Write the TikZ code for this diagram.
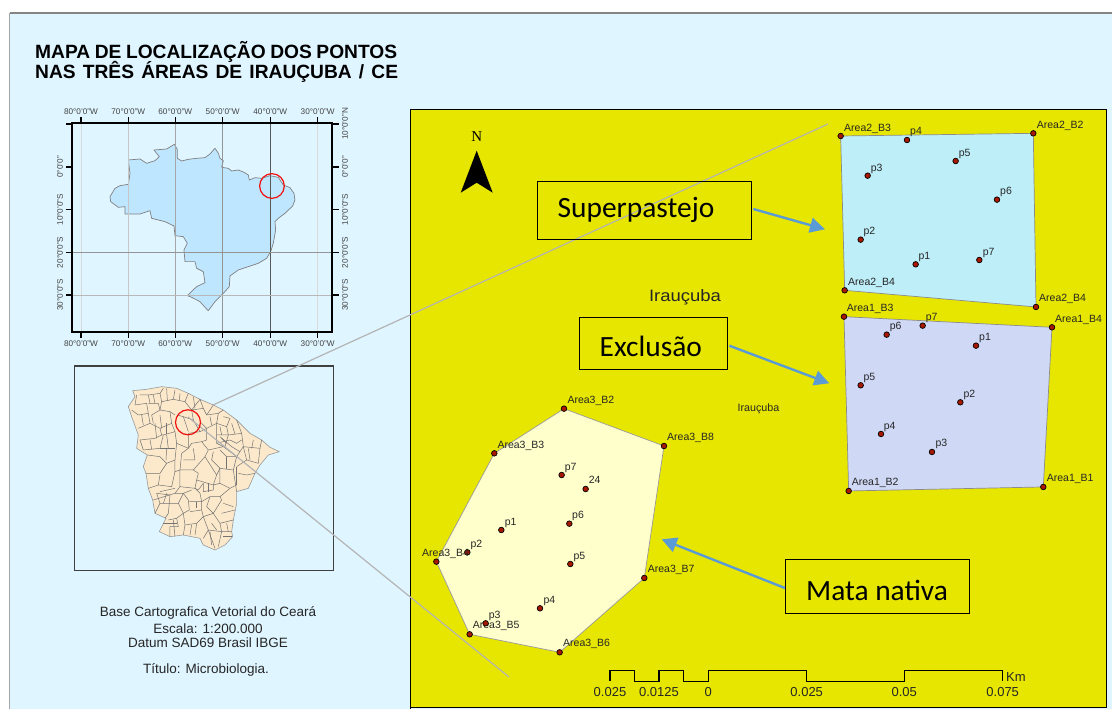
\documentclass[tikz,border=0pt]{standalone}
\usepackage{fontspec}
\setmainfont{Liberation Sans}
\newfontfamily\calib{Carlito}
\newfontfamily\serifN{Liberation Serif}
\usetikzlibrary{arrows.meta}
\definecolor{panelblue}{HTML}{DFF5FF}
\definecolor{mapyellow}{HTML}{E6E600}
\definecolor{brazilblue}{HTML}{BEE6FF}
\definecolor{cearatan}{HTML}{FCE9CB}
\definecolor{areatwo}{HTML}{BEEEF8}
\definecolor{areaone}{HTML}{CFD8F5}
\definecolor{areathree}{HTML}{FFFFCC}
\definecolor{ptred}{HTML}{A81800}
\definecolor{arrowblue}{HTML}{5B9BD5}
\definecolor{circred}{HTML}{F01010}
\definecolor{leader}{HTML}{B4B4B4}
\definecolor{ticktext}{HTML}{444444}
\tikzset{
  x=1pt,y=-1pt,
  pnt/.style={circle,draw=black,fill=ptred,line width=0.7pt,inner sep=0pt,minimum size=5.6pt},
  plabel/.style={anchor=west,inner sep=0pt,text height=7.5pt,text depth=2pt,font=\fontsize{10.5}{12}\selectfont,text=black!85},
  callout/.style={draw=black,line width=0.9pt,minimum width=0pt,inner sep=0pt},
  calltext/.style={font=\calib\fontsize{29.4}{32}\selectfont,text=black},
  bluearrow/.style={draw=arrowblue,line width=2.4pt,-{Triangle[length=15pt,width=15pt,fill=arrowblue]}},
  coord/.style={font=\fontsize{8.2}{10}\selectfont,text=ticktext,inner sep=0pt},
  scalet/.style={font=\fontsize{13}{15}\selectfont,text=black!85,inner sep=0pt},
  infot/.style={font=\fontsize{13.5}{15}\selectfont,text=black!85,inner sep=0pt},
  titlet/.style={font=\bfseries\fontsize{19.2}{21}\selectfont,text=black,inner sep=0pt,anchor=base west},
  muni/.style={draw=black!55,line width=0.5pt,line join=round},
  leaderline/.style={draw=leader,line width=1.2pt},
  ring/.style={draw=circred,line width=1.2pt},
}
\newcommand{\pnt}[6]{% name, x, y, label, lx, ly
  \node[pnt] (#1) at (#2,#3) {};
  \node[plabel] (#1t) at (#5,#6) {#4};
}
\begin{document}
\begin{tikzpicture}
\useasboundingbox (0,0) rectangle (1112,709);
\fill[white] (0,0) rectangle (1112,709);
% outer panel
\path[fill=panelblue] (9.5,13) rectangle (1112,709);
\draw[black!48,line width=1.1pt] (1112,13) -- (9.5,13);
\draw[black!35,line width=0.9pt] (9.5,13) -- (9.5,709);
% title
\node[titlet] (title1) at (35,58.3) {\makebox[362pt][s]{MAPA DE LOCALIZAÇÃO DOS PONTOS}};
\node[titlet] (title2) at (35,78.3) {\makebox[363pt][s]{NAS TRÊS ÁREAS DE IRAUÇUBA / CE}};

% ---------- Brazil map (zoom coordinates)
\begin{scope}[shift={(40,90)},x=0.3333pt,y=-0.3333pt]
\path[fill=brazilblue,draw=black!50,line width=0.7pt,line join=round]
 (403,163)--(412,178)--(412,205)--(425,213)--(445,208)--(470,205)--(495,203)--(510,192)--(525,175)--(535,190)--(540,205)--(550,212)--(545,232)--(565,235)--(575,243)--(595,240)--(612,247)--(625,255)--(628,270)--(645,263)--(665,265)--(690,257)--(715,262)--(730,285)--(750,293)--(762,310)--(765,330)--(758,348)--(735,370)--(715,385)--(705,395)--(707,420)--(700,460)--(692,485)--(680,505)--(655,520)--(625,530)--(595,540)--(570,558)--(568,590)--(550,610)--(525,635)--(505,662)--(498,655)--(480,635)--(455,622)--(442,617)--(470,590)--(495,578)--(490,545)--(470,535)--(465,515)--(435,515)--(432,480)--(442,460)--(430,440)--(405,437)--(402,408)--(375,395)--(335,385)--(330,362)--(300,372)--(255,372)--(255,350)--(235,352)--(212,335)--(210,320)--(225,295)--(240,287)--(265,283)--(270,250)--(265,210)--(300,207)--(320,220)--(345,212)--(358,200)--(342,180)--(380,177)--cycle;
% graticule
\draw[black!15,line width=0.8pt] (123,100)--(123,727);
\draw[black!22,line width=0.8pt] (265,100)--(265,727);
\draw[black!35,line width=0.8pt] (406,100)--(406,727);
\draw[black!42,line width=0.8pt] (548,100)--(548,727);
\draw[black!65,line width=0.7pt] (691,100)--(691,727);
\draw[black!15,line width=0.8pt] (833,100)--(833,727);
\draw[black!42,line width=0.8pt] (97,487)--(875,487);
\draw[black!28,line width=0.8pt] (97,615)--(875,615);
% frame and ticks
\draw[black,line width=1.8pt] (97,100) rectangle (875,727);
\foreach \xx/\lab in {123/80,265/70,406/60,548/50,691/40,833/30}{
  \draw[black,line width=1.4pt] (\xx,100)--(\xx,80);
  \draw[black,line width=1.4pt] (\xx,727)--(\xx,745);
  \node[coord] at (\xx,65) {\lab°0'0"W};
  \node[coord] at (\xx,762) {\lab°0'0"W};
}
\foreach \yy in {102,231,359,487,615}{
  \draw[black,line width=1.4pt] (97,\yy)--(77,\yy);
  \draw[black,line width=1.4pt] (875,\yy)--(897,\yy);
}
\node[coord,rotate=90] at (915,102) {10°0'0"N};
\foreach \yy/\lab in {231/0°0'0",359/10°0'0"S,487/20°0'0"S,615/30°0'0"S}{
  \node[coord,rotate=90] at (60,\yy) {\lab};
  \node[coord,rotate=90] at (915,\yy) {\lab};
}
\draw[ring] (696,288) circle [radius=37];
\end{scope}

% ---------- Ceara inset (zoom coordinates)
\begin{scope}[shift={(60,360)},x=0.3333pt,y=-0.3333pt]
\draw[black!75,line width=1.2pt] (43,18) rectangle (820,632);
\path[fill=cearatan,draw=black!40,line width=0.6pt,line join=round]
 (218,92)--(260,88)--(305,80)--(350,85)--(385,100)--(420,118)--(460,135)--(490,150)--(530,180)--(570,220)--(605,240)--(630,262)--(658,275)--(625,285)--(600,315)--(585,340)--(565,385)--(530,395)--(530,430)--(520,480)--(515,515)--(518,530)--(495,555)--(465,570)--(430,555)--(420,535)--(370,525)--(330,530)--(298,515)--(318,475)--(285,460)--(278,420)--(265,385)--(258,340)--(250,320)--(262,285)--(230,265)--(235,225)--(215,170)--(205,140)--(225,110)--cycle;
\foreach \seg in {
 {(225,135)--(260,130)--(265,160)--(235,165)--(215,150)},
 {(240,105)--(265,105)--(270,130)},
 {(265,105)--(300,100)--(310,85)},
 {(300,100)--(305,125)--(340,118)--(345,90)},
 {(340,118)--(375,125)--(385,100)},
 {(375,125)--(395,150)--(420,118)},
 {(305,125)--(300,150)--(330,155)--(345,165)},
 {(265,160)--(270,190)--(235,205)},
 {(270,190)--(300,205)--(305,225)--(285,235)--(240,240)},
 {(300,150)--(275,165)},
 {(330,155)--(335,190)--(300,205)},
 {(335,190)--(345,215)--(310,225)--(305,225)},
 {(345,215)--(350,250)--(345,300)},
 {(310,225)--(300,265)--(250,270)},
 {(300,265)--(345,265)},
 {(262,285)--(300,290)--(320,310)--(345,300)},
 {(320,310)--(300,340)--(258,340)},
 {(345,300)--(345,335)--(335,380)--(295,375)--(300,345)},
 {(295,375)--(265,385)},
 {(345,335)--(360,330)--(400,330)--(415,340)},
 {(385,220)--(385,265)--(350,250)},
 {(385,265)--(365,280)--(360,330)},
 {(385,265)--(395,250)--(425,245)--(445,270)--(435,290)--(400,330)},
 {(435,290)--(470,345)--(460,375)--(410,360)--(405,385)--(360,380)--(360,330)},
 {(415,340)--(410,360)},
 {(445,270)--(490,260)--(530,290)},
 {(470,345)--(480,325)--(520,330)--(530,290)},
 {(480,325)--(455,300)--(460,275)},
 {(520,330)--(530,395)},
 {(480,325)--(480,370)--(510,385)--(530,375)},
 {(460,375)--(480,370)},
 {(405,385)--(415,390)--(430,370)--(430,395)--(460,390)--(460,375)},
 {(360,380)--(345,400)--(280,420)},
 {(345,400)--(370,400)--(395,390)},
 {(370,400)--(355,430)--(370,460)--(388,450)--(385,420)--(370,400)},
 {(388,425)--(425,425)--(420,400)--(405,385)},
 {(425,425)--(450,410)--(480,410)--(510,385)},
 {(450,410)--(440,440)--(460,460)--(485,420)--(480,410)},
 {(425,425)--(425,450)--(390,455)},
 {(355,430)--(300,430)--(285,460)},
 {(300,430)--(290,400)},
 {(330,405)--(325,460)--(315,475)},
 {(370,460)--(350,475)--(325,480)},
 {(350,475)--(355,500)--(330,500)--(330,530)},
 {(370,460)--(375,495)--(370,525)},
 {(375,495)--(410,490)--(430,470)--(425,450)},
 {(410,490)--(405,525)},
 {(430,470)--(460,460)--(480,490)--(520,480)},
 {(480,490)--(485,515)--(515,515)},
 {(430,470)--(445,510)--(430,535)},
 {(445,510)--(485,515)--(475,560)},
 {(445,510)--(465,565)},
 {(420,118)--(430,145)--(395,150)},
 {(460,135)--(440,165)--(430,145)},
 {(440,165)--(475,160)--(490,150)},
 {(475,160)--(470,190)--(440,205)--(425,190)},
 {(470,190)--(500,200)--(510,175)},
 {(500,200)--(505,225)--(470,225)--(470,190)},
 {(505,225)--(545,220)--(530,180)},
 {(470,225)--(470,250)--(490,260)},
 {(505,225)--(495,260)},
 {(545,220)--(550,260)--(530,290)},
 {(550,260)--(600,265)--(605,240)},
 {(600,265)--(595,310)},
 {(550,260)--(560,300)--(530,320)},
 {(560,300)--(595,310)},
 {(480,230)--(515,260)},
 {(510,240)--(530,250)--(545,240)},
 {(440,205)--(440,240)--(425,245)},
 {(352,165)--(370,170)--(385,215)},
 {(370,170)--(400,180)--(420,215)--(440,205)},
 {(385,220)--(420,215)},
 {(395,150)--(400,180)},
 {(230,105)--(225,135)},
 {(265,130)--(295,130)--(300,150)},
 {(280,105)--(285,130)},
 {(320,85)--(322,120)},
 {(275,165)--(280,190)},
 {(300,165)--(305,205)},
 {(245,165)--(250,195)},
 {(285,190)--(290,235)},
 {(320,190)--(320,222)},
 {(240,240)--(250,270)},
 {(270,238)--(275,268)},
 {(320,225)--(325,265)},
 {(320,265)--(318,300)},
 {(360,100)--(358,122)},
 {(400,110)--(405,145)},
 {(490,170)--(510,175)},
 {(450,170)--(455,195)},
 {(480,200)--(485,225)},
 {(515,190)--(525,222)},
 {(470,250)--(510,240)},
 {(485,235)--(500,250)},
 {(515,260)--(540,275)},
 {(565,265)--(570,300)},
 {(580,240)--(575,265)},
 {(530,320)--(530,345)},
 {(500,290)--(500,328)},
 {(480,270)--(500,290)--(530,290)},
 {(535,340)--(560,345)--(585,340)},
 {(530,345)--(530,375)},
 {(290,400)--(330,405)},
 {(310,430)--(320,400)},
 {(400,265)--(405,300)--(370,300)},
 {(445,370)--(445,395)},
 {(410,425)--(410,445)},
 {(340,480)--(345,530)},
 {(310,490)--(350,490)},
 {(395,495)--(390,525)},
 {(455,490)--(470,510)},
 {(490,430)--(520,440)},
 {(485,460)--(525,450)},
 {(500,490)--(505,515)},
 {(450,515)--(455,555)},
 {(490,530)--(515,530)},
 {(300,395)--(345,385)}%
}{\draw[muni] \seg;}
\end{scope}

% ---------- main map
\path[fill=mapyellow] (410.5,109.5) rectangle (1106.5,707.5);
\draw[black,line width=1.1pt] (410.5,709)--(410.5,109.5)--(1106.5,109.5)--(1106.5,707.5)--(410.5,707.5);

% leaders
\coordinate (leadA) at (213,405);
\coordinate (leadAe) at (828,124);
\coordinate (leadB) at (188,417);
\coordinate (leadBe) at (509,677);
\draw[leaderline] (leadA)--(leadAe);
\draw[leaderline] (leadB)--(leadBe);
\node[draw=circred,line width=1.2pt,circle,minimum size=25pt,inner sep=0pt] (irc) at (188,422.3) {};

% Area 2 and Area 1
\begin{scope}[shift={(820,110)},x=0.3333pt,y=-0.3333pt]
\path[fill=areatwo,draw=black!45,line width=0.7pt] (62,78)--(640,70)--(648,591)--(74,541)--cycle;
\path[fill=areaone,draw=black!45,line width=0.7pt] (72,620)--(696,652)--(670,1131)--(86,1143)--cycle;
\pnt{atb3}{62}{78}{Area2\_B3}{72}{55}
\pnt{atb2}{640}{70}{Area2\_B2}{650}{46}
\pnt{atb4r}{648}{591}{Area2\_B4}{657}{567}
\pnt{atb4l}{74}{541}{Area2\_B4}{84}{517}
\pnt{atp4}{261}{90}{p4}{270}{65}
\pnt{atp5}{407}{153}{p5}{416}{130}
\pnt{atp3}{143}{197}{p3}{152}{175}
\pnt{atp6}{531}{269}{p6}{540}{246}
\pnt{atp2}{122}{389}{p2}{130}{365}
\pnt{atp1}{287}{463}{p1}{295}{441}
\pnt{atp7}{478}{450}{p7}{488}{427}
\pnt{aob3}{72}{620}{Area1\_B3}{80}{596}
\pnt{aob4}{696}{652}{Area1\_B4}{705}{628}
\pnt{aob2}{86}{1143}{Area1\_B2}{95}{1118}
\pnt{aob1}{670}{1131}{Area1\_B1}{680}{1107}
\pnt{aop7}{308}{647}{p7}{317}{623}
\pnt{aop6}{200}{674}{p6}{209}{651}
\pnt{aop1}{468}{707}{p1}{477}{684}
\pnt{aop5}{122}{826}{p5}{130}{802}
\pnt{aop2}{421}{877}{p2}{430}{854}
\pnt{aop4}{183}{972}{p4}{191}{949}
\pnt{aop3}{336}{1026}{p3}{346}{1002}
\end{scope}

% Area 3
\begin{scope}[shift={(410,390)},x=0.3333pt,y=-0.3333pt]
\path[fill=areathree,draw=black!40,line width=0.7pt] (462,56)--(762,168)--(703,564)--(449,787)--(179,733)--(79,515)--(253,190)--cycle;
\pnt{thb2}{462}{56}{Area3\_B2}{472}{32}
\pnt{thb3}{253}{190}{Area3\_B3}{262}{166}
\pnt{thb8}{762}{168}{Area3\_B8}{771}{144}
\pnt{thb5}{179}{733}{Area3\_B5}{188}{708}
\pnt{thb6}{449}{787}{Area3\_B6}{459}{762}
\pnt{thb7}{703}{564}{Area3\_B7}{713}{540}
\pnt{thp7}{455}{255}{p7}{464}{232}
\pnt{thp24}{527}{297}{24}{536}{273}
\pnt{thp6}{478}{401}{p6}{486}{378}
\pnt{thp1}{274}{420}{p1}{284}{397}
\pnt{thp2}{172}{487}{p2}{181}{463}
\pnt{thp5}{481}{522}{p5}{490}{499}
\pnt{thp4}{390}{655}{p4}{400}{632}
\pnt{thp3}{227}{700}{p3}{236}{676}
\pnt{thb4}{79}{515}{Area3\_B4}{36}{490}
\end{scope}

% North arrow
\node[font=\serifN\fontsize{15}{16}\selectfont,inner sep=0pt] (north) at (476.7,137) {N};
\fill[black] (476.7,150.7)--(492.7,192.7)--(476.7,182.7)--(460.7,192.7)--cycle;

% Callouts
\node[callout,minimum width=214pt,minimum height=57.6pt] (supbox) at (644.3,210.5) {};
\node[calltext] (suptxt) at (636,210) {Superpastejo};
\node[callout,minimum width=148pt,minimum height=51.6pt] (excbox) at (653.3,343.5) {};
\node[calltext] (exctxt) at (650.8,346) {Exclusão};
\node[callout,minimum width=184.4pt,minimum height=54.4pt] (matbox) at (877.5,586.5) {};
\node[calltext] (mattxt) at (877,590) {Mata nativa};
\coordinate (suptip) at (825,229.3);
\coordinate (exctip) at (829.3,383.3);
\coordinate (mattip) at (661.7,539.3);
\draw[bluearrow] (753.3,209) -- (suptip);
\draw[bluearrow] (729.3,345.7) -- (exctip);
\draw[bluearrow] (matbox.west |- 0,588) -- (mattip);

% place names
\node[inner sep=0pt,font=\fontsize{16.5}{18}\selectfont,text=black!85] (irauA) at (685,297) {\scalebox{1.12}[1]{Irauçuba}};
\node[inner sep=0pt,font=\fontsize{10.7}{12}\selectfont,text=black!85] (irauB) at (758.5,408.7) {Irauçuba};

% Scale bar
\draw[black,line width=1.1pt,line join=miter] (610,681.3)--(610,670.7)--(634.3,670.7)--(634.3,681.3)--(659,681.3)--(659,670.7)--(683.7,670.7)--(683.7,681.3)--(708.3,681.3)--(708.3,670.7)--(806.7,670.7)--(806.7,681.3)--(904.3,681.3)--(904.3,670.7)--(1002.7,670.7)--(1002.7,681.3);
\node[scalet] (s1) at (610,691.7) {0.025};
\node[scalet] (s2) at (659,691.7) {0.0125};
\node[scalet] (s3) at (708.3,691.7) {0};
\node[scalet] (s4) at (806.7,691.7) {0.025};
\node[scalet] (s5) at (904.3,691.7) {0.05};
\node[scalet] (s6) at (1002.7,691.7) {0.075};
\node[scalet,anchor=west] (km) at (1006,677.3) {Km};

% Lower-left notes
\node[infot] (n1) at (208,613.3) {Base Cartografica Vetorial do Ceará};
\node[infot] (n2) at (208,628.3) {Escala: 1:200.000};
\node[infot] (n3) at (208,642.7) {Datum SAD69 Brasil IBGE};
\node[infot] (n4) at (206,670) {Título: Microbiologia.};
\end{tikzpicture}
\end{document}
